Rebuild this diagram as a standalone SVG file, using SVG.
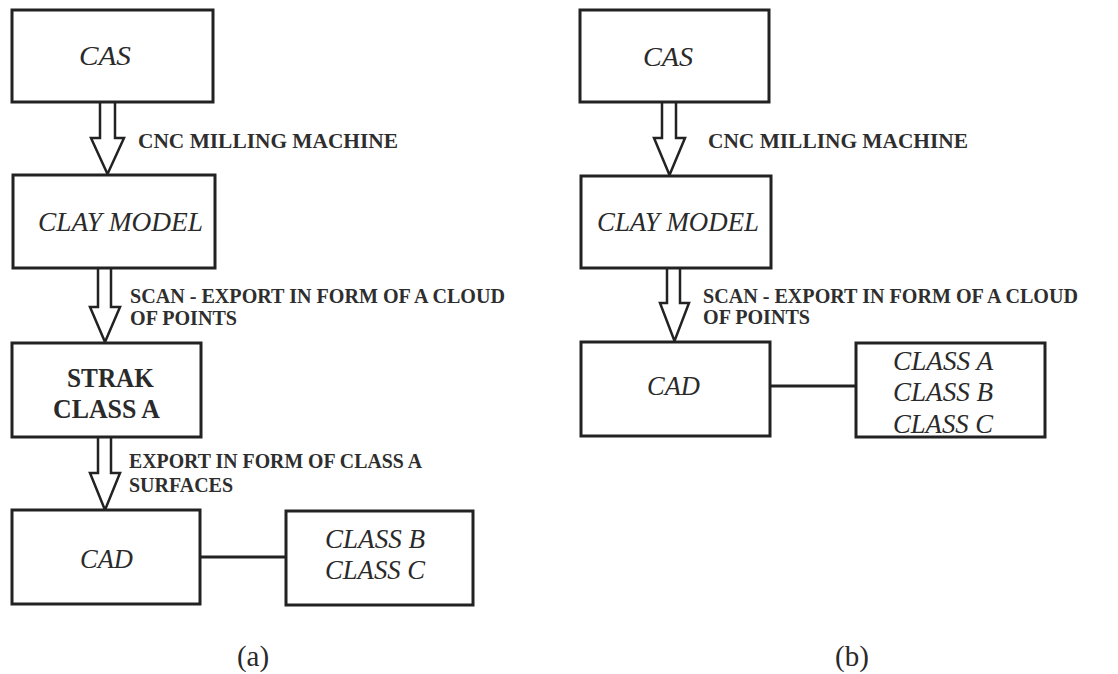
<svg xmlns="http://www.w3.org/2000/svg" width="1118" height="674" viewBox="0 0 1118 674">
<style>
.box{fill:#fff;stroke:#222;stroke-width:3}
.arr{fill:#fff;stroke:#222;stroke-width:2.5;stroke-linejoin:miter}
.ln{stroke:#222;stroke-width:3;fill:none}
.it{font-family:"Liberation Serif",serif;font-style:italic;font-size:27px;fill:#2a2a2a}
.bd{font-family:"Liberation Serif",serif;font-weight:bold;font-size:27px;fill:#2a2a2a}
.lb{font-family:"Liberation Serif",serif;font-weight:bold;font-size:20px;fill:#2e2e2e}
.cap{font-family:"Liberation Serif",serif;font-size:29px;fill:#2a2a2a;text-anchor:middle}
</style>
<rect width="1118" height="674" fill="#fff"/>
<g id="connectors">
<path class="arr" d="M100,102 V138 H91 L107.5,174 L124,138 H115 V102"/>
<path class="arr" d="M98,268 V307 H90 L105,342 L120,307 H111 V268"/>
<path class="arr" d="M98,437 V473 H90 L105,510 L120,473 H111 V437"/>
<line class="ln" x1="200" y1="557" x2="286" y2="557"/>
<path class="arr" d="M662,102 V138 H654 L669.5,175 L685,138 H676 V102"/>
<path class="arr" d="M667,268 V303 H660 L674.5,341 L689,303 H680 V268"/>
<line class="ln" x1="770" y1="386" x2="856" y2="386"/>
</g>
<g id="a-labels">
<text class="lb" x="138" y="148" textLength="260" lengthAdjust="spacingAndGlyphs">CNC MILLING MACHINE</text>
<text class="lb" x="130" y="303" textLength="375" lengthAdjust="spacingAndGlyphs">SCAN - EXPORT IN FORM OF A CLOUD</text>
<text class="lb" x="130" y="325" textLength="107" lengthAdjust="spacingAndGlyphs">OF POINTS</text>
<text class="lb" x="129" y="468" textLength="293" lengthAdjust="spacingAndGlyphs">EXPORT IN FORM OF CLASS A</text>
<text class="lb" x="129" y="492" textLength="104" lengthAdjust="spacingAndGlyphs">SURFACES</text>
</g>
<g id="a-cas"><rect class="box" x="12" y="10" width="201" height="92"/><text class="it" x="79" y="65" textLength="52" lengthAdjust="spacingAndGlyphs">CAS</text></g>
<g id="a-clay"><rect class="box" x="13" y="175" width="202" height="93"/><text class="it" x="38" y="231" textLength="165" lengthAdjust="spacingAndGlyphs">CLAY MODEL</text></g>
<g id="a-strak"><rect class="box" x="12" y="343" width="189" height="94"/><text class="bd" x="67" y="387" textLength="87" lengthAdjust="spacingAndGlyphs">STRAK</text><text class="bd" x="53" y="418" textLength="107" lengthAdjust="spacingAndGlyphs">CLASS A</text></g>
<g id="a-cad"><rect class="box" x="12" y="510" width="188" height="94"/><text class="it" x="80" y="568" textLength="53" lengthAdjust="spacingAndGlyphs">CAD</text></g>
<g id="a-class"><rect class="box" x="286" y="511" width="187" height="94"/><text class="it" x="325" y="548" textLength="100" lengthAdjust="spacingAndGlyphs">CLASS B</text><text class="it" x="325" y="579" textLength="100" lengthAdjust="spacingAndGlyphs">CLASS C</text></g>
<text class="cap" x="253" y="666">(a)</text>
<g id="b-labels">
<text class="lb" x="708" y="148" textLength="260" lengthAdjust="spacingAndGlyphs">CNC MILLING MACHINE</text>
<text class="lb" x="703" y="303" textLength="375" lengthAdjust="spacingAndGlyphs">SCAN - EXPORT IN FORM OF A CLOUD</text>
<text class="lb" x="703" y="324" textLength="107" lengthAdjust="spacingAndGlyphs">OF POINTS</text>
</g>
<g id="b-cas"><rect class="box" x="580" y="10" width="189" height="92"/><text class="it" x="643" y="66" textLength="50" lengthAdjust="spacingAndGlyphs">CAS</text></g>
<g id="b-clay"><rect class="box" x="581" y="176" width="190" height="92"/><text class="it" x="597" y="231" textLength="162" lengthAdjust="spacingAndGlyphs">CLAY MODEL</text></g>
<g id="b-cad"><rect class="box" x="581" y="342" width="189" height="94"/><text class="it" x="647" y="395" textLength="53" lengthAdjust="spacingAndGlyphs">CAD</text></g>
<g id="b-class"><rect class="box" x="856" y="343" width="189" height="94"/><text class="it" x="893" y="370" textLength="100" lengthAdjust="spacingAndGlyphs">CLASS A</text><text class="it" x="893" y="401" textLength="100" lengthAdjust="spacingAndGlyphs">CLASS B</text><text class="it" x="893" y="433" textLength="100" lengthAdjust="spacingAndGlyphs">CLASS C</text></g>
<text class="cap" x="852" y="666">(b)</text>
</svg>
